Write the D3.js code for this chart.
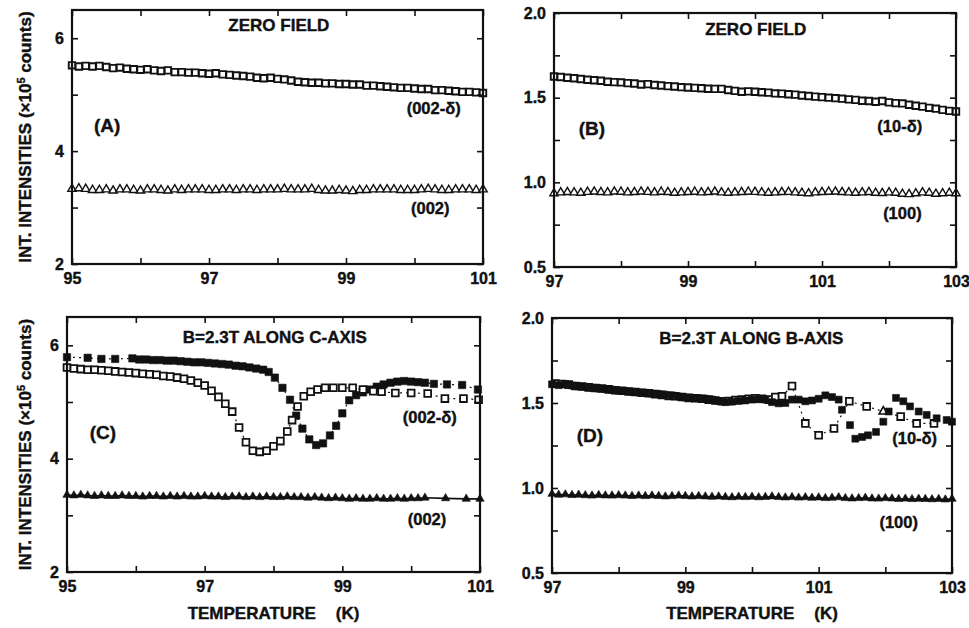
<!DOCTYPE html>
<html>
<head>
<meta charset="utf-8">
<script src="https://cdn.jsdelivr.net/npm/d3@7"></script>
<style>
  body { margin: 0; background: #fff; }
  svg text {
    font-family: "Liberation Sans", Arial, Helvetica, sans-serif;
    font-weight: bold;
    fill: #111;
    stroke: #111;
    stroke-width: 0.4px;
  }
</style>
</head>
<body>
<svg id="chart" width="969" height="628"></svg>
<script>
// ---- temperature grids (K) ----
const tempsAC = [
  95.0, 95.1, 95.2, 95.3, 95.4, 95.5, 95.6, 95.7, 95.8, 95.9,
  96.0, 96.1, 96.2, 96.3, 96.4, 96.5, 96.6, 96.7, 96.8, 96.9,
  97.0, 97.1, 97.2, 97.3, 97.4, 97.5, 97.6, 97.7, 97.8, 97.9,
  98.0, 98.1, 98.2, 98.3, 98.4, 98.5, 98.6, 98.7, 98.8, 98.9,
  99.0, 99.1, 99.2, 99.3, 99.4, 99.5, 99.6, 99.7, 99.8, 99.9,
  100.0, 100.1, 100.2, 100.3, 100.4, 100.5, 100.6, 100.7, 100.8, 100.9, 101.0
];
const tempsBD = [
  97.0, 97.1, 97.2, 97.3, 97.4, 97.5, 97.6, 97.7, 97.8, 97.9,
  98.0, 98.1, 98.2, 98.3, 98.4, 98.5, 98.6, 98.7, 98.8, 98.9,
  99.0, 99.1, 99.2, 99.3, 99.4, 99.5, 99.6, 99.7, 99.8, 99.9,
  100.0, 100.1, 100.2, 100.3, 100.4, 100.5, 100.6, 100.7, 100.8, 100.9,
  101.0, 101.1, 101.2, 101.3, 101.4, 101.5, 101.6, 101.7, 101.8, 101.9,
  102.0, 102.1, 102.2, 102.3, 102.4, 102.5, 102.6, 102.7, 102.8, 102.9, 103.0
];

// ---- (A) zero field, (002-δ) and (002) ----
const aSat = [
  5.52, 5.50, 5.51, 5.50, 5.51, 5.49, 5.47, 5.48, 5.46, 5.45,
  5.44, 5.45, 5.43, 5.42, 5.43, 5.40, 5.40, 5.39, 5.39, 5.38,
  5.37, 5.38, 5.36, 5.35, 5.34, 5.33, 5.32, 5.30, 5.29, 5.30,
  5.28, 5.27, 5.25, 5.23, 5.22, 5.21, 5.21, 5.20, 5.20, 5.19,
  5.19, 5.18, 5.18, 5.16, 5.16, 5.15, 5.14, 5.13, 5.12, 5.12,
  5.11, 5.10, 5.10, 5.08, 5.08, 5.07, 5.06, 5.05, 5.05, 5.04, 5.03
];
const aBragg = [
  3.33, 3.34, 3.33, 3.31, 3.31, 3.32, 3.30, 3.32, 3.32, 3.31,
  3.30, 3.32, 3.32, 3.31, 3.30, 3.32, 3.31, 3.32, 3.32, 3.32,
  3.31, 3.31, 3.32, 3.32, 3.31, 3.32, 3.32, 3.31, 3.32, 3.32,
  3.32, 3.33, 3.32, 3.32, 3.32, 3.33, 3.31, 3.30, 3.30, 3.31,
  3.30, 3.29, 3.31, 3.31, 3.32, 3.32, 3.32, 3.32, 3.31, 3.31,
  3.31, 3.32, 3.33, 3.32, 3.31, 3.31, 3.32, 3.32, 3.32, 3.31, 3.32
];

// ---- (B) zero field, (10-δ) and (100) ----
const bSat = [
  1.625, 1.622, 1.618, 1.615, 1.610, 1.606, 1.603, 1.600, 1.594, 1.592,
  1.590, 1.586, 1.584, 1.578, 1.580, 1.575, 1.572, 1.568, 1.566, 1.562,
  1.560, 1.558, 1.556, 1.553, 1.552, 1.552, 1.545, 1.540, 1.535, 1.537,
  1.535, 1.532, 1.530, 1.525, 1.524, 1.520, 1.518, 1.513, 1.510, 1.506,
  1.503, 1.500, 1.497, 1.494, 1.490, 1.487, 1.482, 1.480, 1.476, 1.480,
  1.472, 1.468, 1.466, 1.458, 1.452, 1.447, 1.440, 1.435, 1.428, 1.422, 1.418
];
const bBragg = [
  0.935, 0.940, 0.942, 0.940, 0.938, 0.943, 0.945, 0.942, 0.940, 0.945,
  0.944, 0.940, 0.942, 0.945, 0.943, 0.940, 0.944, 0.942, 0.938, 0.940,
  0.942, 0.944, 0.940, 0.942, 0.945, 0.940, 0.938, 0.940, 0.942, 0.944,
  0.943, 0.940, 0.938, 0.940, 0.942, 0.943, 0.940, 0.938, 0.935, 0.940,
  0.942, 0.944, 0.945, 0.942, 0.940, 0.938, 0.940, 0.942, 0.938, 0.936,
  0.940, 0.938, 0.932, 0.930, 0.935, 0.940, 0.938, 0.932, 0.935, 0.938, 0.935
];

// ---- (C) B = 2.3 T along c ----
const cOpen = [
  [95.0, 5.61], [95.1, 5.59], [95.2, 5.58], [95.3, 5.57], [95.4, 5.57], [95.5, 5.56], [95.6, 5.55], [95.7, 5.54],
  [95.8, 5.53], [95.9, 5.52], [96.0, 5.51], [96.1, 5.50], [96.2, 5.49], [96.3, 5.48], [96.4, 5.46], [96.5, 5.45],
  [96.6, 5.43], [96.7, 5.41], [96.8, 5.38], [96.9, 5.34], [97.0, 5.29], [97.1, 5.20], [97.2, 5.09], [97.3, 4.97],
  [97.4, 4.83], [97.5, 4.55], [97.6, 4.29], [97.7, 4.14], [97.8, 4.12], [97.9, 4.14], [98.0, 4.22], [98.1, 4.31],
  [98.2, 4.48], [98.27, 4.68], [98.35, 4.92], [98.44, 5.10], [98.54, 5.18], [98.64, 5.22], [98.75, 5.25], [98.87, 5.25],
  [99.0, 5.25], [99.15, 5.25], [99.3, 5.22], [99.45, 5.19], [99.57, 5.18], [99.77, 5.16], [100.0, 5.16], [100.24, 5.15],
  [100.49, 5.06], [100.76, 5.06], [100.98, 5.04]
];
const cFilled = [
  [95.0, 5.79], [95.3, 5.78], [95.5, 5.76], [95.7, 5.76], [95.95, 5.77],
  [96.05, 5.75], [96.15, 5.75], [96.25, 5.74], [96.35, 5.74], [96.45, 5.73], [96.55, 5.73], [96.65, 5.72],
  [96.75, 5.71], [96.85, 5.70], [96.95, 5.70], [97.05, 5.69], [97.15, 5.68], [97.25, 5.67], [97.35, 5.66],
  [97.45, 5.64], [97.55, 5.63], [97.65, 5.61], [97.75, 5.59], [97.85, 5.57], [97.93, 5.53],
  [98.02, 5.43], [98.13, 5.25], [98.24, 5.04], [98.33, 4.76], [98.42, 4.53], [98.52, 4.34], [98.62, 4.24],
  [98.72, 4.27], [98.82, 4.41], [98.91, 4.58], [99.0, 4.80], [99.1, 5.03], [99.2, 5.12],
  [99.3, 5.17], [99.4, 5.22], [99.5, 5.27], [99.6, 5.31], [99.7, 5.34], [99.8, 5.36], [99.9, 5.37],
  [100.0, 5.36], [100.1, 5.35], [100.2, 5.34], [100.33, 5.32],
  [100.52, 5.31], [100.74, 5.30], [100.97, 5.22]
];
const cBragg = [
  3.36, 3.35, 3.36, 3.35, 3.34, 3.35, 3.34, 3.34, 3.35, 3.34,
  3.34, 3.33, 3.34, 3.34, 3.33, 3.34, 3.33, 3.34, 3.33, 3.33,
  3.34, 3.33, 3.33, 3.32, 3.33, 3.33, 3.32, 3.33, 3.32, 3.33,
  3.32, 3.32, 3.33, 3.32, 3.32, 3.31, 3.32, 3.31, 3.30, 3.31,
  3.30, 3.29, 3.30, 3.29, 3.29, 3.30, 3.29, 3.29, 3.30, 3.29,
  3.30, 3.30, 3.31
];
const cBraggTail = [[100.5, 3.30], [100.8, 3.29], [101.0, 3.29]];

// ---- (D) B = 2.3 T along b ----
const dFilled = [
  [97.0, 1.610], [97.1, 1.605], [97.2, 1.612], [97.3, 1.603], [97.4, 1.598], [97.5, 1.595], [97.6, 1.590],
  [97.7, 1.585], [97.8, 1.582], [97.9, 1.578], [98.0, 1.572], [98.1, 1.570], [98.2, 1.566], [98.3, 1.562],
  [98.4, 1.560], [98.5, 1.555], [98.6, 1.552], [98.7, 1.548], [98.8, 1.545], [98.9, 1.538], [99.0, 1.532],
  [99.1, 1.530], [99.2, 1.528], [99.3, 1.525], [99.4, 1.520], [99.5, 1.512], [99.6, 1.505], [99.7, 1.508],
  [99.8, 1.512], [99.9, 1.515], [100.0, 1.520], [100.1, 1.522], [100.2, 1.520], [100.3, 1.505], [100.4, 1.498],
  [100.5, 1.500], [100.6, 1.520], [100.7, 1.520], [100.8, 1.510], [100.9, 1.515], [101.0, 1.525], [101.1, 1.545],
  [101.2, 1.535], [101.3, 1.520], [101.35, 1.46], [101.47, 1.37], [101.55, 1.29], [101.65, 1.30], [101.74, 1.31],
  [101.86, 1.33], [101.97, 1.39], [102.05, 1.45], [102.16, 1.53], [102.27, 1.51], [102.37, 1.48], [102.5, 1.45],
  [102.62, 1.43], [102.77, 1.41], [102.92, 1.40], [103.0, 1.39]
];
const dOpen = [
  [97.05, 1.615], [97.15, 1.612], [97.25, 1.608], [97.35, 1.600], [97.45, 1.597], [97.55, 1.592], [97.65, 1.588],
  [97.75, 1.585], [97.85, 1.580], [97.95, 1.575], [98.05, 1.572], [98.15, 1.568], [98.25, 1.565], [98.35, 1.560],
  [98.45, 1.557], [98.55, 1.552], [98.65, 1.548], [98.75, 1.542], [98.85, 1.540], [98.95, 1.535], [99.05, 1.530],
  [99.15, 1.528], [99.25, 1.525], [99.35, 1.520], [99.45, 1.515], [99.55, 1.510], [99.65, 1.512], [99.75, 1.518],
  [99.85, 1.520], [99.95, 1.525], [100.05, 1.528], [100.15, 1.525], [100.25, 1.520], [100.35, 1.535], [100.45, 1.540],
  [100.6, 1.60], [100.8, 1.38], [101.0, 1.31], [101.23, 1.35], [101.46, 1.51], [101.72, 1.48], [102.23, 1.42],
  [102.47, 1.38], [102.73, 1.38]
];
const dOpenTri = [[101.97, 1.45]];
const dBragg = [
  0.965, 0.960, 0.962, 0.958, 0.960, 0.957, 0.955, 0.958, 0.956, 0.955,
  0.957, 0.955, 0.953, 0.955, 0.952, 0.955, 0.953, 0.950, 0.952, 0.955,
  0.953, 0.950, 0.952, 0.950, 0.948, 0.950, 0.947, 0.945, 0.948, 0.946,
  0.948, 0.945, 0.947, 0.950, 0.946, 0.944, 0.946, 0.943, 0.945, 0.942,
  0.944, 0.940, 0.942, 0.945, 0.940, 0.938, 0.940, 0.942, 0.938, 0.937,
  0.940, 0.938, 0.935, 0.937, 0.934, 0.936, 0.935, 0.933, 0.935, 0.932, 0.936
];

// ---- ticks ----
const xTicksAC = [95, 96, 97, 98, 99, 100, 101];
const xLabelsAC = [95, 97, 99, 101];
const xTicksBD = [97, 98, 99, 100, 101, 102, 103];
const xLabelsBD = [97, 99, 101, 103];
const yTicksAC = [2, 3, 4, 5, 6];
const yLabelsAC = [2, 4, 6];
const yTicksBD = [0.5, 0.75, 1.0, 1.25, 1.5, 1.75, 2.0];
const yLabelsBD = [0.5, 1.0, 1.5, 2.0];

const svg = d3.select("#chart");

const panels = [
  {
    left: 72, right: 483, top: 10, bottom: 264,
    xDomain: [95, 101], yDomain: [2, 6.5],
    xTicks: xTicksAC, xLabels: xLabelsAC, yTicks: yTicksAC, yLabels: yLabelsAC, yFormat: d3.format("d"),
    title: "ZERO FIELD", titleAt: [98.02, 6.13], tag: "(A)", tagAt: [95.32, 4.34],
    notes: [["(002-δ)", 100.28, 4.66], ["(002)", 100.23, 2.89]],
    yTitle: true, xTitle: false,
    series: [
      { data: d3.zip(tempsAC, aBragg), shape: "triangle", filled: false, size: 30, stroke: 1.4 },
      { data: d3.zip(tempsAC, aSat), shape: "square", filled: false, size: 42, stroke: 1.9 }
    ]
  },
  {
    left: 554, right: 956, top: 13, bottom: 267,
    xDomain: [97, 103], yDomain: [0.5, 2.0],
    xTicks: xTicksBD, xLabels: xLabelsBD, yTicks: yTicksBD, yLabels: yLabelsBD, yFormat: d3.format(".1f"),
    title: "ZERO FIELD", titleAt: [100.01, 1.87], tag: "(B)", tagAt: [97.37, 1.28],
    notes: [["(10-δ)", 102.16, 1.297], ["(100)", 102.2, 0.783]],
    yTitle: false, xTitle: false,
    series: [
      { data: d3.zip(tempsBD, bBragg), shape: "triangle", filled: false, size: 30, stroke: 1.4 },
      { data: d3.zip(tempsBD, bSat), shape: "square", filled: false, size: 42, stroke: 1.9 }
    ]
  },
  {
    left: 67, right: 480, top: 317, bottom: 572,
    xDomain: [95, 101], yDomain: [2, 6.5],
    xTicks: xTicksAC, xLabels: xLabelsAC, yTicks: yTicksAC, yLabels: yLabelsAC, yFormat: d3.format("d"),
    title: "B=2.3T ALONG C-AXIS", titleAt: [98.02, 6.04], tag: "(C)", tagAt: [95.33, 4.35],
    notes: [["(002-δ)", 100.27, 4.63], ["(002)", 100.23, 2.83]],
    yTitle: true, xTitle: true,
    series: [
      { data: d3.zip(tempsAC.slice(0, cBragg.length), cBragg).concat(cBraggTail), shape: "triangle", filled: true, size: 30, line: "solid" },
      { data: cFilled, shape: "square", filled: true, size: 54, line: "dotted" },
      { data: cOpen, shape: "square", filled: false, size: 46, stroke: 1.8, line: "dotted" }
    ]
  },
  {
    left: 552, right: 952, top: 318, bottom: 573,
    xDomain: [97, 103], yDomain: [0.5, 2.0],
    xTicks: xTicksBD, xLabels: xLabelsBD, yTicks: yTicksBD, yLabels: yLabelsBD, yFormat: d3.format(".1f"),
    title: "B=2.3T ALONG B-AXIS", titleAt: [99.99, 1.85], tag: "(D)", tagAt: [97.37, 1.27],
    notes: [["(10-δ)", 102.44, 1.26], ["(100)", 102.2, 0.765]],
    yTitle: false, xTitle: true,
    series: [
      { data: d3.zip(tempsBD, dBragg), shape: "triangle", filled: true, size: 30, line: "solid" },
      { data: dOpen, shape: "square", filled: false, size: 46, stroke: 1.8, line: "dotted" },
      { data: dOpenTri, shape: "triangle", filled: false, size: 32, stroke: 1.6 },
      { data: dFilled, shape: "square", filled: true, size: 48 }
    ]
  }
];

function drawPanel(p) {
  const g = svg.append("g");

  const x = d3.scaleLinear().domain(p.xDomain).range([p.left, p.right]);
  const y = d3.scaleLinear().domain(p.yDomain).range([p.bottom, p.top]);

  // data marks
  p.series.forEach(s => {
    if (s.line) {
      g.append("path")
        .datum(s.data)
        .attr("fill", "none")
        .attr("stroke", "#111")
        .attr("stroke-width", s.line === "solid" ? 1.6 : 1.2)
        .attr("stroke-dasharray", s.line === "dotted" ? "2,4" : null)
        .attr("d", d3.line().x(d => x(d[0])).y(d => y(d[1])));
    }
    const sym = d3.symbol()
      .type(s.shape === "square" ? d3.symbolSquare : d3.symbolTriangle)
      .size(s.size);
    g.append("g").selectAll("path")
      .data(s.data)
      .join("path")
        .attr("transform", d => `translate(${x(d[0])},${y(d[1])})`)
        .attr("d", sym)
        .attr("fill", s.filled ? "#111" : "#fff")
        .attr("stroke", "#111")
        .attr("stroke-width", s.filled ? 0.6 : s.stroke);
  });

  // frame
  g.append("rect")
    .attr("x", p.left)
    .attr("y", p.top)
    .attr("width", p.right - p.left)
    .attr("height", p.bottom - p.top)
    .attr("fill", "none")
    .attr("stroke", "#111")
    .attr("stroke-width", 2.2);

  // inward ticks on all four sides, labels bottom and left only
  const xFmt = d => p.xLabels.includes(d) ? d : "";
  const yFmt = d => p.yLabels.includes(d) ? p.yFormat(d) : "";

  const axes = [
    g.append("g").attr("transform", `translate(0,${p.bottom})`)
      .call(d3.axisBottom(x).tickValues(p.xTicks).tickSize(-6).tickPadding(9).tickFormat(xFmt)),
    g.append("g").attr("transform", `translate(0,${p.top})`)
      .call(d3.axisTop(x).tickValues(p.xTicks).tickSize(-6).tickFormat("")),
    g.append("g").attr("transform", `translate(${p.left},0)`)
      .call(d3.axisLeft(y).tickValues(p.yTicks).tickSize(-6).tickPadding(8).tickFormat(yFmt)),
    g.append("g").attr("transform", `translate(${p.right},0)`)
      .call(d3.axisRight(y).tickValues(p.yTicks).tickSize(-6).tickFormat(""))
  ];
  axes.forEach(a => {
    a.select(".domain").remove();
    a.selectAll(".tick line").attr("stroke", "#111").attr("stroke-width", 1.6);
    a.selectAll("text").style("font-size", "16px");
  });

  // annotations
  g.append("text")
    .attr("x", x(p.titleAt[0]))
    .attr("y", y(p.titleAt[1]))
    .attr("text-anchor", "middle")
    .style("font-size", "17px")
    .text(p.title);

  g.append("text")
    .attr("x", x(p.tagAt[0]))
    .attr("y", y(p.tagAt[1]))
    .style("font-size", "19px")
    .text(p.tag);

  p.notes.forEach(([label, t, v]) => {
    g.append("text")
      .attr("x", x(t))
      .attr("y", y(v))
      .attr("text-anchor", "middle")
      .style("font-size", "16.5px")
      .text(label);
  });

  if (p.yTitle) {
    const yt = svg.append("text")
      .attr("transform", `translate(31,${(p.top + p.bottom) / 2}) rotate(-90)`)
      .attr("text-anchor", "middle")
      .style("font-size", "17px");
    yt.append("tspan").text("INT. INTENSITIES (×10");
    yt.append("tspan").attr("dy", -6).style("font-size", "11px").text("5");
    yt.append("tspan").attr("dy", 6).text(" counts)");
  }

  if (p.xTitle) {
    const xt = svg.append("text")
      .attr("x", (p.left + p.right) / 2)
      .attr("y", 619)
      .attr("text-anchor", "middle")
      .style("font-size", "17px");
    xt.append("tspan").text("TEMPERATURE");
    xt.append("tspan").attr("dx", 20).text("(K)");
  }
}

panels.forEach(drawPanel);
</script>
</body>
</html>
